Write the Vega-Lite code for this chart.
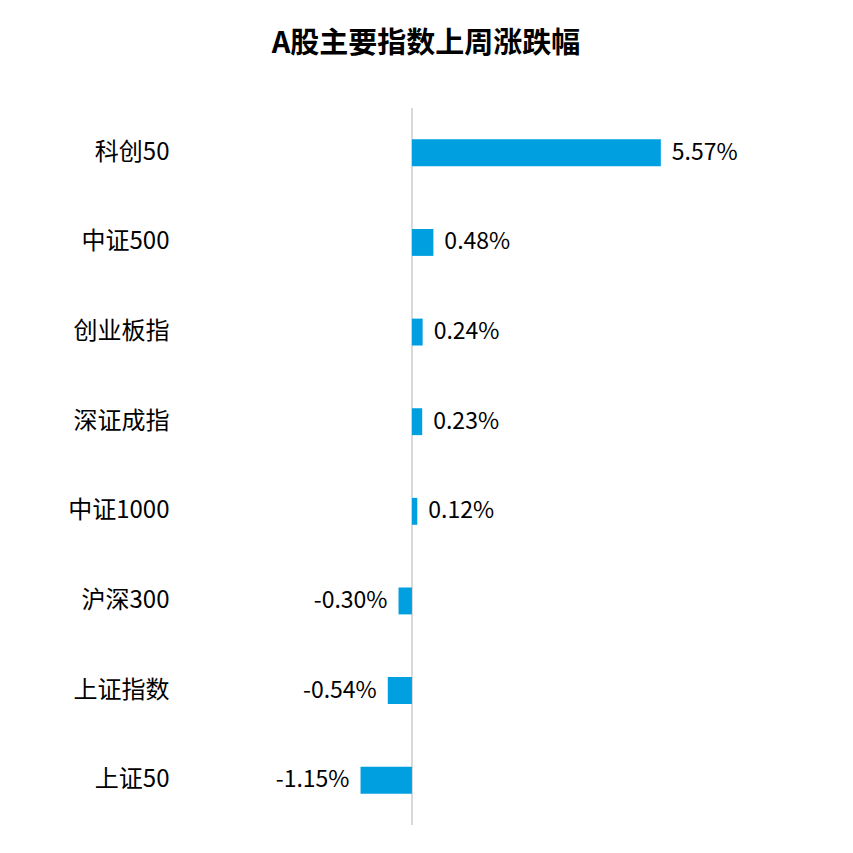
{
  "$schema": "https://vega.github.io/schema/vega-lite/v6.json",
  "autosize": {"type": "none"},
  "padding": {"left": 180, "top": 108, "right": 181, "bottom": 28},
  "width": 492,
  "height": 717,
  "background": "white",
  "title": {
    "text": "A股主要指数上周涨跌幅",
    "font": "Noto Sans CJK SC",
    "fontSize": 29,
    "fontWeight": "bold",
    "color": "#000000",
    "anchor": "middle",
    "offset": 48
  },
  "data": {
    "values": [
      {"name": "科创50", "value": 5.57, "label": "5.57%"},
      {"name": "中证500", "value": 0.48, "label": "0.48%"},
      {"name": "创业板指", "value": 0.24, "label": "0.24%"},
      {"name": "深证成指", "value": 0.23, "label": "0.23%"},
      {"name": "中证1000", "value": 0.12, "label": "0.12%"},
      {"name": "沪深300", "value": -0.30, "label": "-0.30%"},
      {"name": "上证指数", "value": -0.54, "label": "-0.54%"},
      {"name": "上证50", "value": -1.15, "label": "-1.15%"}
    ]
  },
  "encoding": {
    "y": {
      "field": "name",
      "type": "nominal",
      "sort": null,
      "scale": {"paddingInner": 0.7, "paddingOuter": 0.35},
      "axis": {
        "title": null,
        "domain": false,
        "ticks": false,
        "labelPadding": 11,
        "labelFont": "Noto Sans CJK SC",
        "labelFontSize": 24,
        "labelColor": "#000000"
      }
    }
  },
  "layer": [
    {
      "mark": {"type": "rule", "color": "#d9d9d9", "strokeWidth": 1.5},
      "encoding": {
        "x": {"datum": 0, "type": "quantitative", "scale": {"domain": [-5.19, 5.82], "nice": false}, "axis": null},
        "y": null
      }
    },
    {
      "mark": {"type": "bar", "color": "#009FE0"},
      "encoding": {
        "x": {"field": "value", "type": "quantitative", "scale": {"domain": [-5.19, 5.82], "nice": false}, "axis": null}
      }
    },
    {
      "transform": [{"filter": "datum.value >= 0"}],
      "mark": {"type": "text", "align": "left", "dx": 11, "font": "Noto Sans CJK SC", "fontSize": 23, "color": "#000000"},
      "encoding": {
        "x": {"field": "value", "type": "quantitative"},
        "text": {"field": "label"}
      }
    },
    {
      "transform": [{"filter": "datum.value < 0"}],
      "mark": {"type": "text", "align": "right", "dx": -11, "font": "Noto Sans CJK SC", "fontSize": 23, "color": "#000000"},
      "encoding": {
        "x": {"field": "value", "type": "quantitative"},
        "text": {"field": "label"}
      }
    }
  ],
  "config": {"view": {"stroke": null}}
}
